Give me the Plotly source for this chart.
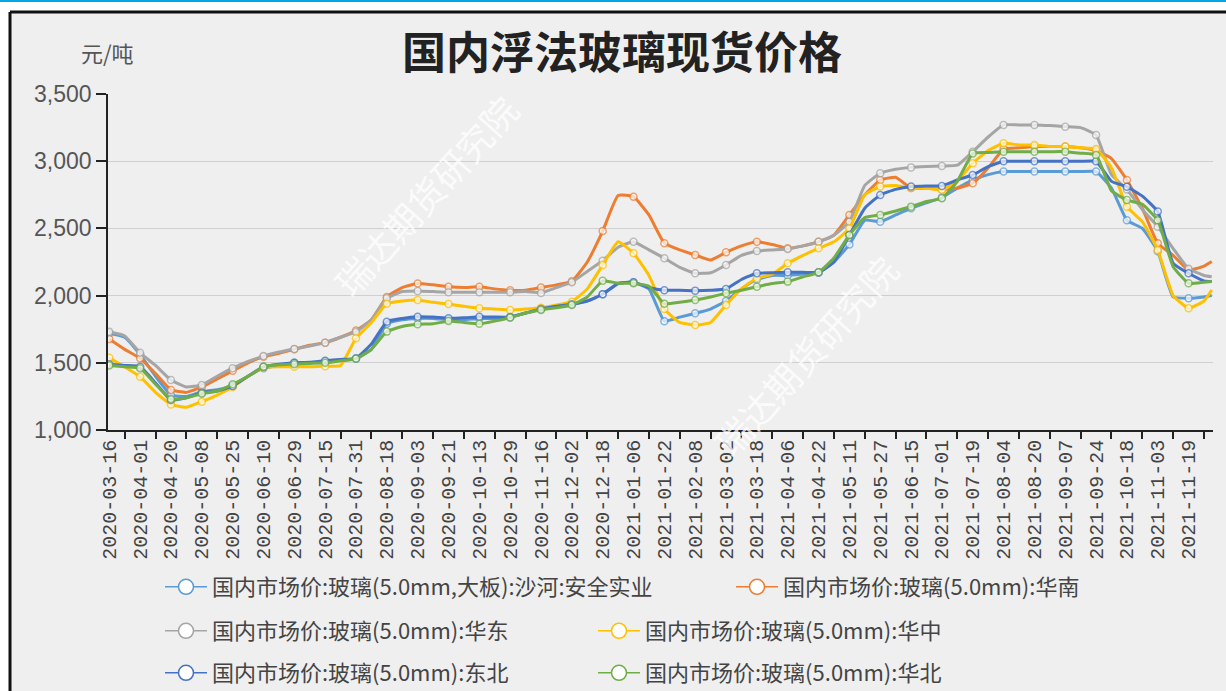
import plotly.graph_objects as go

# ---------------- data ----------------
tick_labels = ["2020-03-16", "2020-04-01", "2020-04-20", "2020-05-08", "2020-05-25", "2020-06-10",
               "2020-06-29", "2020-07-15", "2020-07-31", "2020-08-18", "2020-09-03", "2020-09-21",
               "2020-10-13", "2020-10-29", "2020-11-16", "2020-12-02", "2020-12-18", "2021-01-06",
               "2021-01-22", "2021-02-08", "2021-03-02", "2021-03-18", "2021-04-06", "2021-04-22",
               "2021-05-11", "2021-05-27", "2021-06-15", "2021-07-01", "2021-07-19", "2021-08-04",
               "2021-08-20", "2021-09-07", "2021-09-24", "2021-10-18", "2021-11-03", "2021-11-19"]
label_step = 12          # trading days between labelled dates
n_days = 430             # trading days on the category axis

# trading-day index of each sampled value
day_idx = list(range(0, 427, 6)) + [429]

shahe = [1720, 1690, 1560, 1400, 1260, 1250, 1285, 1300, 1330, 1400, 1460, 1480,
         1500, 1500, 1510, 1520, 1530, 1600, 1790, 1820, 1830, 1830, 1820, 1820,
         1830, 1830, 1840, 1870, 1900, 1920, 1940, 1960, 2010, 2090, 2100, 2050,
         1810, 1840, 1868, 1900, 1960, 2050, 2120, 2150, 2150, 2160, 2170, 2250,
         2380, 2560, 2550, 2600, 2650, 2690, 2730, 2800, 2860, 2900, 2923, 2923,
         2923, 2923, 2923, 2923, 2923, 2800, 2560, 2500, 2330, 1990, 1980, 1990, 2000]
huanan = [1677, 1600, 1533, 1420, 1298, 1280, 1320, 1380, 1440, 1500, 1545, 1570,
          1600, 1630, 1650, 1690, 1740, 1820, 1990, 2060, 2090, 2080, 2066, 2060,
          2066, 2050, 2040, 2040, 2060, 2080, 2106, 2250, 2480, 2745, 2736, 2600,
          2390, 2340, 2302, 2265, 2322, 2370, 2401, 2380, 2352, 2370, 2401, 2450,
          2600, 2750, 2860, 2880, 2800, 2800, 2790, 2800, 2836, 2950, 3090, 3100,
          3110, 3110, 3110, 3100, 3080, 3020, 2860, 2650, 2389, 2300, 2190, 2220, 2254]
huadong = [1731, 1700, 1575, 1480, 1372, 1320, 1335, 1400, 1460, 1510, 1550, 1580,
           1603, 1625, 1650, 1690, 1730, 1820, 1980, 2030, 2035, 2030, 2025, 2025,
           2025, 2025, 2025, 2030, 2020, 2060, 2100, 2180, 2260, 2360, 2401, 2340,
           2278, 2210, 2166, 2170, 2228, 2300, 2332, 2340, 2347, 2370, 2401, 2450,
           2550, 2820, 2910, 2940, 2954, 2960, 2964, 2970, 3071, 3180, 3270, 3270,
           3270, 3265, 3257, 3250, 3195, 2900, 2790, 2640, 2513, 2350, 2200, 2150, 2140]
huazhong = [1538, 1470, 1397, 1280, 1190, 1170, 1211, 1260, 1320, 1400, 1465, 1470,
            1470, 1470, 1475, 1480, 1682, 1800, 1940, 1960, 1967, 1950, 1937, 1920,
            1906, 1900, 1893, 1900, 1910, 1930, 1955, 2050, 2228, 2400, 2315, 2150,
            1900, 1800, 1781, 1800, 1930, 2050, 2129, 2160, 2240, 2300, 2352, 2400,
            2500, 2750, 2811, 2820, 2800, 2800, 2786, 2850, 2985, 3080, 3133, 3121,
            3121, 3110, 3110, 3100, 3090, 2950, 2662, 2550, 2340, 2000, 1906, 1960, 2042]
dongbei = [1489, 1480, 1471, 1350, 1223, 1240, 1278, 1290, 1327, 1400, 1471, 1490,
           1501, 1505, 1516, 1525, 1533, 1640, 1806, 1830, 1843, 1840, 1831, 1835,
           1843, 1840, 1840, 1870, 1900, 1920, 1935, 1960, 2010, 2090, 2100, 2060,
           2040, 2040, 2037, 2040, 2049, 2120, 2166, 2170, 2173, 2173, 2173, 2250,
           2450, 2650, 2749, 2790, 2811, 2815, 2816, 2860, 2898, 2960, 2999, 2999,
           2999, 2999, 2999, 2999, 2999, 2850, 2810, 2740, 2625, 2240, 2166, 2110, 2104]
huabei = [1480, 1470, 1460, 1340, 1230, 1240, 1270, 1290, 1340, 1400, 1470, 1485,
          1490, 1495, 1500, 1515, 1530, 1600, 1732, 1770, 1786, 1790, 1811, 1800,
          1790, 1810, 1836, 1870, 1893, 1910, 1930, 1990, 2110, 2092, 2092, 2070,
          1940, 1950, 1967, 1990, 2017, 2040, 2066, 2090, 2104, 2140, 2173, 2280,
          2451, 2580, 2600, 2630, 2662, 2700, 2724, 2850, 3058, 3065, 3071, 3071,
          3071, 3071, 3071, 3060, 3046, 2780, 2711, 2680, 2560, 2215, 2092, 2100, 2104]

series_names = ["国内市场价:玻璃(5.0mm,大板):沙河:安全实业", "国内市场价:玻璃(5.0mm):华南",
                "国内市场价:玻璃(5.0mm):华东", "国内市场价:玻璃(5.0mm):华中",
                "国内市场价:玻璃(5.0mm):东北", "国内市场价:玻璃(5.0mm):华北"]
series_values = [shahe, huanan, huadong, huazhong, dongbei, huabei]

# ---------------- style ----------------
colors = ["#5B9BD5", "#ED7D31", "#A5A5A5", "#FFC000", "#4472C4", "#70AD47"]
legend_ids = ["legend", "legend", "legend2", "legend2", "legend3", "legend3"]
legend_widths = [514, None, 376, None, 376, None]
BG = "#efefef"
W, H = 1226, 691
L, R, T, B = 108, 13, 94, 261
PW, PH = W - L - R, H - T - B


def px(x):
    return (x - L) / PW


def py(y):
    return (H - B - y) / PH


fig = go.Figure()
for name, vals, col, lg in zip(series_names, series_values, colors, legend_ids):
    sizes = [7 if d % label_step == 0 else 0 for d in day_idx]
    fig.add_trace(go.Scatter(
        x=day_idx, y=vals, mode="lines+markers", name=name, showlegend=False,
        line=dict(color=col, width=3, shape="spline", smoothing=0.4),
        marker=dict(size=sizes, color="white", line=dict(color=col, width=1.5)),
        hoverinfo="skip"))

for name, col, lg, lw in zip(series_names, colors, legend_ids, legend_widths):
    kw = {} if lw is None else {"legendwidth": lw}
    fig.add_trace(go.Scatter(
        x=[None], y=[None], mode="lines+markers", name=name, legend=lg,
        line=dict(color=col, width=1.5),
        marker=dict(size=15, color="white", line=dict(color=col, width=1.5)), **kw))

tickvals = [i * label_step for i in range(len(tick_labels))]

leg_common = dict(orientation="h", xanchor="left", yanchor="middle", itemwidth=42,
                  bgcolor="rgba(0,0,0,0)", font=dict(size=22, color="#444"))

fig.update_layout(
    width=W, height=H,
    margin=dict(l=L, r=R, t=T, b=B, autoexpand=False),
    paper_bgcolor="white", plot_bgcolor=BG,
    font=dict(family="Noto Sans CJK SC, sans-serif", color="#444"),
    xaxis=dict(
        range=[-0.5, n_days - 0.5], tickmode="array", tickvals=tickvals, ticktext=tick_labels,
        tickangle=-90, ticks="", showline=True, linecolor="#222", linewidth=1.5,
        showgrid=False, zeroline=False,
        tickfont=dict(family="Liberation Mono, monospace", size=20, color="#444"),
        minor=dict(tickmode="array", tickvals=[v + label_step // 2 for v in tickvals],
                   ticks="outside", ticklen=7, tickcolor="#222", tickwidth=1.5, showgrid=False),
    ),
    yaxis=dict(
        range=[1000, 3500], tickmode="array", tickvals=[1000, 1500, 2000, 2500, 3000, 3500],
        tickformat=",d", ticks="outside", ticklen=10, tickcolor="#222", tickwidth=1.5,
        showline=True, linecolor="#222", linewidth=1.5, gridcolor="#cfcfcf", gridwidth=1,
        zeroline=False,
        tickfont=dict(family="Liberation Sans, Arial, sans-serif", size=23, color="#555"),
    ),
    legend=dict(x=px(160), y=py(587), **leg_common),
    legend2=dict(x=px(160), y=py(631), **leg_common),
    legend3=dict(x=px(160), y=py(673), **leg_common),
    shapes=[
        dict(type="rect", xref="paper", yref="paper", x0=px(10), x1=px(W + 5), y0=py(12), y1=py(H + 5),
             fillcolor=BG, line=dict(width=0), layer="below"),
        dict(type="line", xref="paper", yref="paper", x0=px(0), x1=px(W), y0=py(1), y1=py(1),
             line=dict(color="#00a8e8", width=2)),
        dict(type="line", xref="paper", yref="paper", x0=px(10), x1=px(W), y0=py(12), y1=py(12),
             line=dict(color="#111", width=3)),
        dict(type="line", xref="paper", yref="paper", x0=px(10), x1=px(10), y0=py(12), y1=py(H),
             line=dict(color="#111", width=3)),
    ],
    annotations=[
        dict(text="<b>国内浮法玻璃现货价格</b>", xref="paper", yref="paper", x=px(622), y=py(50),
             xanchor="center", yanchor="middle", showarrow=False,
             font=dict(size=44, color="#222", family="Noto Sans CJK SC")),
        dict(text="元/吨", xref="paper", yref="paper", x=px(107), y=py(52),
             xanchor="center", yanchor="middle", showarrow=False,
             font=dict(size=22, color="#555")),
        dict(text="瑞达期货研究院", xref="paper", yref="paper", x=px(425), y=py(195),
             xanchor="center", yanchor="middle", showarrow=False, textangle=-48,
             font=dict(size=36, color="rgba(255,255,255,0.75)")),
        dict(text="瑞达期货研究院", xref="paper", yref="paper", x=px(805), y=py(355),
             xanchor="center", yanchor="middle", showarrow=False, textangle=-48,
             font=dict(size=36, color="rgba(255,255,255,0.75)")),
    ],
)

fig.write_html("out.html", config={"displayModeBar": False},
               post_script="document.body.style.margin='0';document.body.style.overflow='hidden';")
